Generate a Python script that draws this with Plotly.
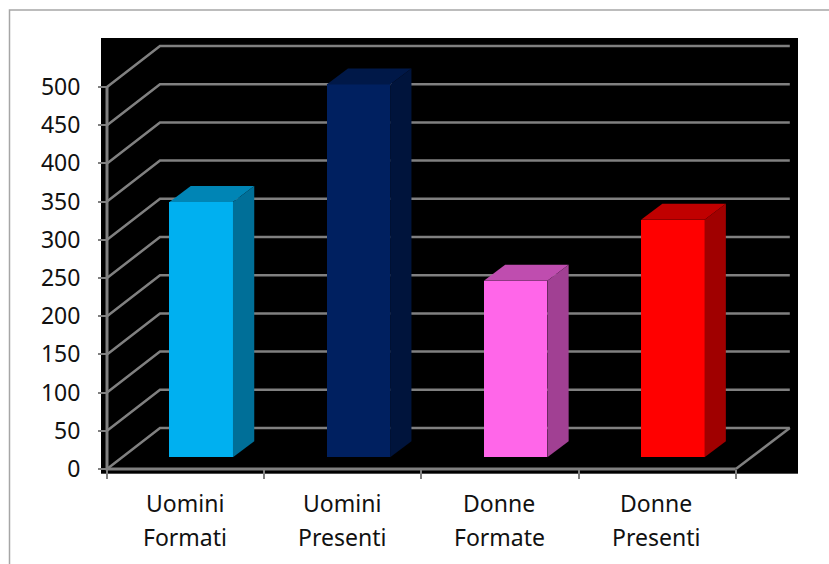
import plotly.graph_objects as go

# Data
categories_line1 = ["Uomini", "Uomini", "Donne", "Donne"]
categories_line2 = ["Formati", "Presenti", "Formate", "Presenti"]
values = [334, 488, 231, 311]
y_ticks = [0, 50, 100, 150, 200, 250, 300, 350, 400, 450, 500]
front_colors = ["#00B0F0", "#002060", "#FF66E9", "#FF0000"]
top_colors = ["#0085B5", "#001848", "#BF4DAF", "#C00000"]
side_colors = ["#006F98", "#00143C", "#A14093", "#A00000"]

W, H = 829, 564
# Pixel geometry of the frame
PX_X0, PX_SLOT = 107.0, 157.2
PX_Y0, PX_UNIT = 469.0, 0.764
RECT = (101.0, 798.0, 38.0, 473.7)

def ux(px):
    return (px - PX_X0) / PX_SLOT

def uy(px):
    return (PX_Y0 - px) / PX_UNIT

WALL_DX, WALL_DY = 53 / PX_SLOT, 41 / PX_UNIT       # depth of the floor
WALL_END = 54 / PX_SLOT                             # right end of the back wall
BAR_DX, BAR_DY = 15.6 / PX_SLOT, 11.7 / PX_UNIT     # where bars stand on the floor
SIDE_DX, SIDE_DY = 21.3 / PX_SLOT, 16 / PX_UNIT     # depth of each bar
BAR_W = 63.5 / PX_SLOT
LABEL_SHIFT = -0.8 / PX_SLOT
N = len(values)
GRID = "#808080"

fig = go.Figure()

centres = [i + 0.5 + BAR_DX for i in range(N)]
fig.add_trace(go.Bar(x=centres, y=values, base=BAR_DY, width=BAR_W,
                     marker=dict(color=front_colors, line=dict(width=0)),
                     hoverinfo="skip"))

for c, v, tc, sc in zip(centres, values, top_colors, side_colors):
    l, r = c - BAR_W / 2, c + BAR_W / 2
    top = v + BAR_DY
    fig.add_trace(go.Scatter(
        x=[l, r, r + SIDE_DX, l + SIDE_DX, l],
        y=[top, top, top + SIDE_DY, top + SIDE_DY, top],
        mode="lines", fill="toself", fillcolor=tc, line=dict(width=0), hoverinfo="skip"))
    fig.add_trace(go.Scatter(
        x=[r, r + SIDE_DX, r + SIDE_DX, r, r],
        y=[BAR_DY, BAR_DY + SIDE_DY, top + SIDE_DY, top, BAR_DY],
        mode="lines", fill="toself", fillcolor=sc, line=dict(width=0), hoverinfo="skip"))

shapes = []
# Outer chart border (runs off the page at right and bottom)
shapes.append(dict(type="path", xref="paper", yref="paper",
                   path=f"M {9.5/W} -0.1 L {9.5/W} {1-10/H} L 1.1 {1-10/H}",
                   line=dict(color="#A6A6A6", width=1.5), layer="below"))
# Gridlines: side wall diagonal plus back wall
for t in y_ticks:
    shapes.append(dict(type="path", xref="x", yref="y", layer="below",
                       path=f"M 0 {t} L {WALL_DX} {t + WALL_DY} L {N + WALL_END} {t + WALL_DY}",
                       line=dict(color=GRID, width=2.5)))
# Floor right edge and front axes
shapes.append(dict(type="path", xref="x", yref="y", layer="below",
                   path=f"M {N} 0 L {N + WALL_END} {WALL_DY}",
                   line=dict(color=GRID, width=2.5)))
shapes.append(dict(type="path", xref="x", yref="y", layer="below",
                   path=f"M 0 {y_ticks[-1]} L 0 0 L {N} 0",
                   line=dict(color=GRID, width=3)))

font = dict(family="Noto Sans", size=23, color="#111111")
ann = []
for i, (a, b) in enumerate(zip(categories_line1, categories_line2)):
    ann.append(dict(x=i + 0.5 + LABEL_SHIFT, y=1 - 503 / H, xref="x", yref="paper", text=a,
                    showarrow=False, font=font, xanchor="center", yanchor="middle"))
    ann.append(dict(x=i + 0.5 + LABEL_SHIFT, y=1 - 537 / H, xref="x", yref="paper", text=b,
                    showarrow=False, font=font, xanchor="center", yanchor="middle"))

fig.update_layout(
    width=W, height=H, margin=dict(l=0, r=0, t=0, b=0, pad=0, autoexpand=False),
    paper_bgcolor="white", plot_bgcolor="black", showlegend=False,
    shapes=shapes, annotations=ann, bargap=0,
    xaxis=dict(domain=[RECT[0] / W, RECT[1] / W], range=[ux(RECT[0]), ux(RECT[1])],
               anchor="free", position=1 - PX_Y0 / H,
               tickmode="array", tickvals=list(range(N + 1)), showticklabels=False,
               ticks="outside", ticklen=9, tickwidth=1.5, tickcolor=GRID,
               showgrid=False, zeroline=False, showline=False, fixedrange=True),
    yaxis=dict(domain=[1 - RECT[3] / H, 1 - RECT[2] / H], range=[uy(RECT[3]), uy(RECT[2])],
               anchor="free", position=PX_X0 / W,
               tickmode="array", tickvals=y_ticks, ticktext=[str(t) for t in y_ticks],
               tickfont=font, ticks="outside", ticklen=9, tickwidth=1.5, tickcolor=GRID,
               ticklabelstandoff=13,
               showgrid=False, zeroline=False, showline=False, fixedrange=True),
)

fig.write_html("out.html", config=dict(displayModeBar=False),
               post_script="document.body.style.margin='0';document.documentElement.style.overflow='hidden';")
